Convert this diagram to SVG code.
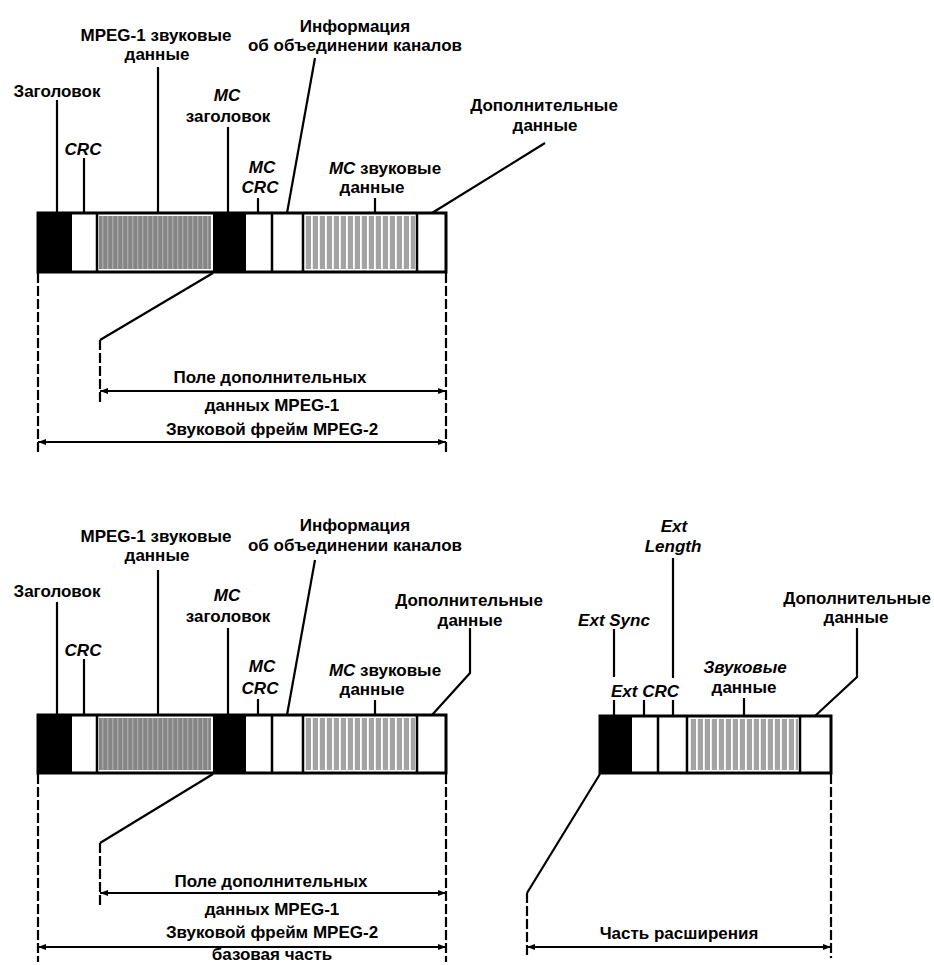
<svg xmlns="http://www.w3.org/2000/svg" width="934" height="965" viewBox="0 0 934 965">
<style>
.t{font-family:"Liberation Sans",Arial,sans-serif;font-weight:bold;font-size:17px;text-anchor:middle;fill:#000}
.i{font-style:italic}
.ld{stroke:#000;stroke-width:2.2;fill:none}
.ds{stroke:#000;stroke-width:2.2;fill:none;stroke-dasharray:10 3}
.dim{stroke:#000;stroke-width:2.2;fill:none;marker-start:url(#ar);marker-end:url(#ar)}
.bar{fill:none;stroke:#000;stroke-width:3}
.sep{stroke:#000;stroke-width:2.5}
.blk{fill:#000}
.wht{fill:#fff}
.dk{fill:url(#pd)}
.lt{fill:url(#pl)}
</style>
<defs>
<pattern id="pd" width="5" height="10" patternUnits="userSpaceOnUse">
<rect width="5" height="10" fill="#858585"/>
<rect x="2" width="1.4" height="10" fill="#a9a9a9"/>
</pattern>
<pattern id="pl" width="7" height="10" patternUnits="userSpaceOnUse">
<rect width="7" height="10" fill="#a3a3a3"/>
<rect x="3" width="1.8" height="10" fill="#fff"/>
</pattern>
<marker id="ar" viewBox="0 0 8 6" refX="8" refY="3" markerWidth="8" markerHeight="6" markerUnits="userSpaceOnUse" orient="auto-start-reverse">
<path d="M0,0 L8,3 L0,6 z" fill="#000"/>
</marker>
</defs>
<rect width="934" height="965" fill="#fff"/>

<!-- Top frame -->
<g id="top-bar">
<rect class="wht" x="38" y="213" width="408" height="59"/>
<rect class="blk" x="38" y="213" width="34" height="59"/>
<rect class="dk" x="99" y="216" width="112" height="53"/>
<rect class="blk" x="213" y="213" width="33" height="59"/>
<rect class="lt" x="305" y="216" width="110" height="53"/>
<line class="sep" x1="97" y1="213" x2="97" y2="272"/>
<line class="sep" x1="272" y1="213" x2="272" y2="272"/>
<line class="sep" x1="303" y1="213" x2="303" y2="272"/>
<line class="sep" x1="417" y1="213" x2="417" y2="272"/>
<rect class="bar" x="38" y="213" width="408" height="59"/>
</g>
<g id="top-labels">
<text class="t" x="57" y="97">Заголовок</text>
<text class="t i" x="83" y="155">CRC</text>
<text class="t" x="156" y="41">MPEG-1 звуковые</text>
<text class="t" x="157" y="60">данные</text>
<text class="t i" x="227" y="101">MC</text>
<text class="t" x="228" y="122">заголовок</text>
<text class="t i" x="262" y="173">MC</text>
<text class="t i" x="260" y="193">CRC</text>
<text class="t" x="355" y="32">Информация</text>
<text class="t" x="355" y="51">об объединении каналов</text>
<text class="t" x="385" y="174"><tspan class="i">MC</tspan> звуковые</text>
<text class="t" x="372" y="193">данные</text>
<text class="t" x="544" y="111">Дополнительные</text>
<text class="t" x="545" y="131">данные</text>
<text class="t" x="270" y="383">Поле дополнительных</text>
<text class="t" x="272" y="411">данных MPEG-1</text>
<text class="t" x="272" y="435">Звуковой фрейм MPEG-2</text>
</g>

<!-- Bottom-left frame -->
<g id="bottom-bar">
<rect class="wht" x="38" y="715" width="408" height="58"/>
<rect class="blk" x="38" y="715" width="34" height="58"/>
<rect class="dk" x="99" y="718" width="112" height="52"/>
<rect class="blk" x="213" y="715" width="33" height="58"/>
<rect class="lt" x="305" y="718" width="110" height="52"/>
<line class="sep" x1="97" y1="715" x2="97" y2="773"/>
<line class="sep" x1="272" y1="715" x2="272" y2="773"/>
<line class="sep" x1="303" y1="715" x2="303" y2="773"/>
<line class="sep" x1="417" y1="715" x2="417" y2="773"/>
<rect class="bar" x="38" y="715" width="408" height="58"/>
</g>
<g id="bottom-labels">
<text class="t" x="57" y="597">Заголовок</text>
<text class="t i" x="83" y="656">CRC</text>
<text class="t" x="156" y="542">MPEG-1 звуковые</text>
<text class="t" x="157" y="561">данные</text>
<text class="t i" x="227" y="601">MC</text>
<text class="t" x="228" y="622">заголовок</text>
<text class="t i" x="262" y="672">MC</text>
<text class="t i" x="260" y="694">CRC</text>
<text class="t" x="355" y="531">Информация</text>
<text class="t" x="355" y="551">об объединении каналов</text>
<text class="t" x="385" y="676"><tspan class="i">MC</tspan> звуковые</text>
<text class="t" x="372" y="695">данные</text>
<text class="t" x="469" y="606">Дополнительные</text>
<text class="t" x="470" y="626">данные</text>
<text class="t" x="271" y="887">Поле дополнительных</text>
<text class="t" x="272" y="915">данных MPEG-1</text>
<text class="t" x="272" y="938">Звуковой фрейм MPEG-2</text>
<text class="t" x="272" y="960">базовая часть</text>
</g>

<!-- Right extension frame -->
<g id="ext-bar">
<rect class="wht" x="600" y="716" width="231" height="57"/>
<rect class="blk" x="600" y="716" width="32" height="57"/>
<rect class="lt" x="689" y="719" width="109" height="51"/>
<line class="sep" x1="658" y1="716" x2="658" y2="773"/>
<line class="sep" x1="687" y1="716" x2="687" y2="773"/>
<line class="sep" x1="800" y1="716" x2="800" y2="773"/>
<rect class="bar" x="600" y="716" width="231" height="57"/>
</g>
<g id="ext-labels">
<text class="t i" x="674" y="532">Ext</text>
<text class="t i" x="673" y="552">Length</text>
<text class="t i" x="614" y="626">Ext Sync</text>
<text class="t i" x="645" y="697">Ext CRC</text>
<text class="t i" x="745" y="673">Звуковые</text>
<text class="t" x="744" y="693">данные</text>
<text class="t" x="857" y="604">Дополнительные</text>
<text class="t" x="856" y="623">данные</text>
<text class="t" x="679" y="939">Часть расширения</text>
</g>

<g id="connectors">
<!-- top leaders -->
<line class="ld" x1="57" y1="100" x2="57" y2="213"/>
<line class="ld" x1="84" y1="158" x2="84" y2="213"/>
<line class="ld" x1="158" y1="67" x2="158" y2="213"/>
<line class="ld" x1="228" y1="127" x2="228" y2="213"/>
<line class="ld" x1="258" y1="198" x2="258" y2="213"/>
<line class="ld" x1="315" y1="58" x2="287" y2="213"/>
<line class="ld" x1="375" y1="198" x2="375" y2="213"/>
<line class="ld" x1="545" y1="143" x2="432" y2="213"/>
<!-- top dimensions -->
<line class="ds" x1="38" y1="273" x2="38" y2="455"/>
<line class="ds" x1="446" y1="273" x2="446" y2="455"/>
<line class="ld" x1="213" y1="273" x2="100" y2="340"/>
<line class="ds" x1="100" y1="340" x2="100" y2="403"/>
<line class="dim" x1="100" y1="391" x2="446" y2="391"/>
<line class="dim" x1="38" y1="442" x2="446" y2="442"/>
<!-- bottom leaders -->
<line class="ld" x1="57" y1="602" x2="57" y2="715"/>
<line class="ld" x1="84" y1="659" x2="84" y2="715"/>
<line class="ld" x1="158" y1="570" x2="158" y2="715"/>
<line class="ld" x1="228" y1="628" x2="228" y2="715"/>
<line class="ld" x1="258" y1="699" x2="258" y2="715"/>
<line class="ld" x1="315" y1="560" x2="287" y2="715"/>
<line class="ld" x1="375" y1="700" x2="375" y2="715"/>
<polyline class="ld" points="470,628 470,673 432,715"/>
<!-- bottom dimensions -->
<line class="ds" x1="38" y1="774" x2="38" y2="962"/>
<line class="ds" x1="446" y1="774" x2="446" y2="962"/>
<line class="ld" x1="213" y1="774" x2="100" y2="843"/>
<line class="ds" x1="100" y1="843" x2="100" y2="905"/>
<line class="dim" x1="100" y1="893" x2="446" y2="893"/>
<line class="dim" x1="38" y1="947" x2="446" y2="947"/>
<!-- right leaders -->
<line class="ld" x1="673" y1="558" x2="673" y2="678"/>
<line class="ld" x1="673" y1="700" x2="673" y2="716"/>
<line class="ld" x1="614" y1="629" x2="614" y2="677"/>
<line class="ld" x1="614" y1="700" x2="614" y2="716"/>
<line class="ld" x1="644" y1="700" x2="644" y2="716"/>
<line class="ld" x1="744" y1="698" x2="744" y2="716"/>
<polyline class="ld" points="857,628 857,677 815,716"/>
<!-- right dimensions -->
<line class="ld" x1="600" y1="774" x2="527" y2="893"/>
<line class="ds" x1="527" y1="893" x2="527" y2="958"/>
<line class="ds" x1="831" y1="774" x2="831" y2="958"/>
<line class="dim" x1="527" y1="947" x2="831" y2="947"/>
</g>
</svg>
